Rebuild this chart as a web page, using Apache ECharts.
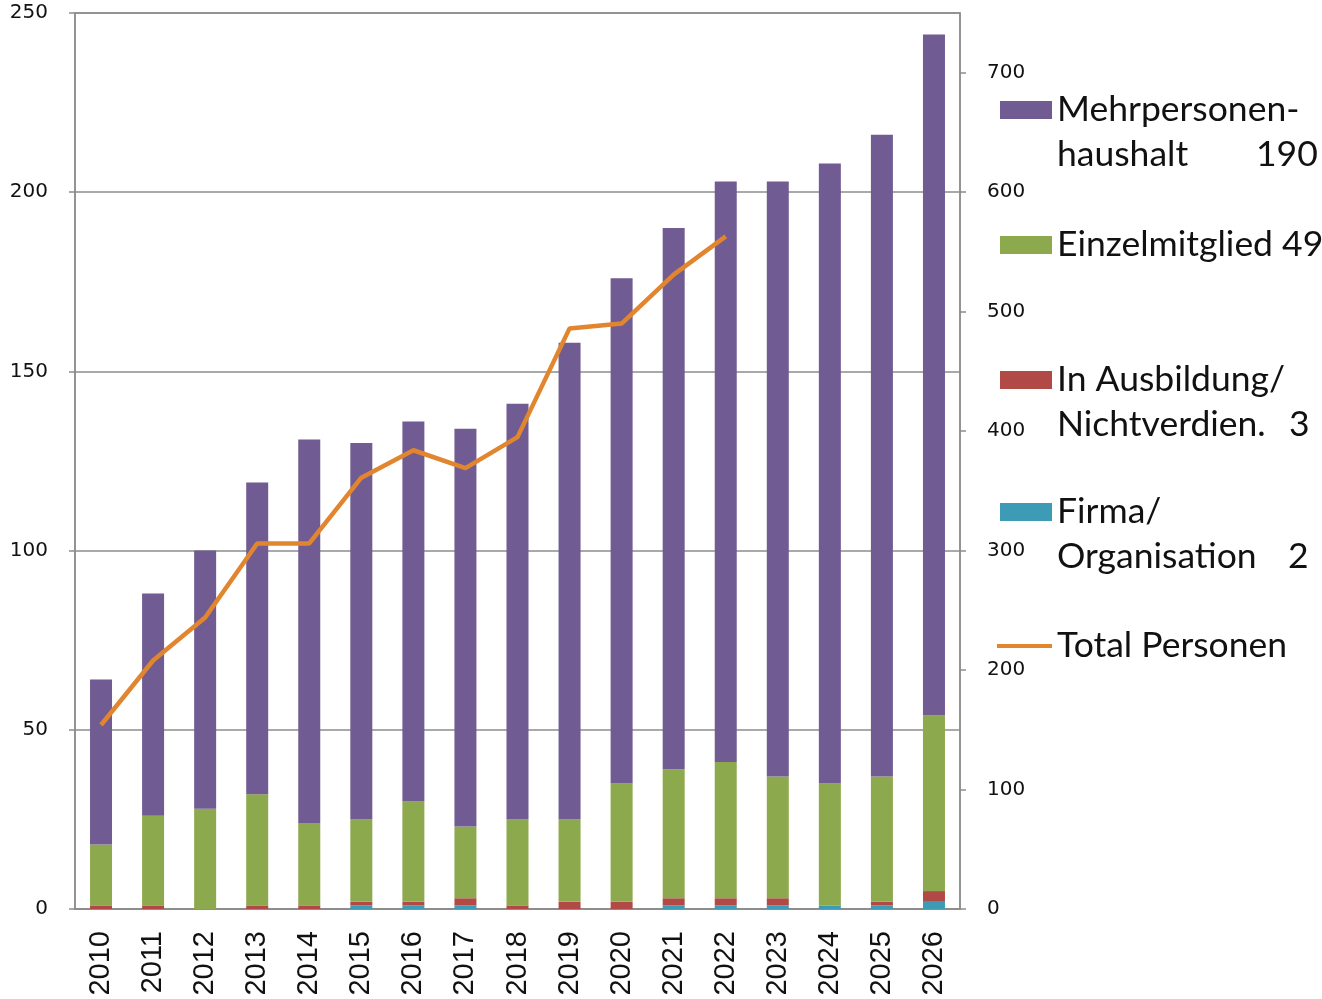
<!DOCTYPE html>
<html>
<head>
<meta charset="utf-8">
<script src="https://cdn.jsdelivr.net/npm/echarts@6/dist/echarts.min.js"></script>
<style>
  html, body { margin: 0; padding: 0; background: #ffffff; }
  #chart { width: 1322px; height: 999px; }
</style>
</head>
<body>
<div id="chart"></div>
<script>
// ---- Data ----
const years = ['2010','2011','2012','2013','2014','2015','2016','2017','2018','2019','2020','2021','2022','2023','2024','2025','2026'];
const firma        = [0, 0, 0, 0, 0, 1, 1, 1, 0, 0, 0, 1, 1, 1, 1, 1, 2];
const ausbildung   = [1, 1, 0, 1, 1, 1, 1, 2, 1, 2, 2, 2, 2, 2, 0, 1, 3];
const einzel       = [17, 25, 28, 31, 23, 23, 28, 20, 24, 23, 33, 36, 38, 34, 34, 35, 49];
const mehr         = [46, 62, 72, 87, 107, 105, 106, 111, 116, 133, 141, 151, 162, 166, 173, 179, 190];
const totalPersonen = [154, 208, 244, 306, 306, 361, 384, 369, 395, 486, 490, 531, 563, null, null, null, null];

const leftAxisRange  = [0, 250];
const leftAxisStep   = 50;
const rightAxisRange = [0, 750];
const rightAxisStep  = 100;

// legend texts: [series name, first line, second-line label, second-line value]
const legendMehr   = ['Mehrpersonenhaushalt', 'Mehrpersonen-', 'haushalt', '190'];
const legendEinzel = ['Einzelmitglied', 'Einzelmitglied 49'];
const legendAusb   = ['In Ausbildung/Nichtverdien.', 'In Ausbildung/', 'Nichtverdien.', '3'];
const legendFirma  = ['Firma/Organisation', 'Firma/', 'Organisation', '2'];
const legendTotal  = ['Total Personen', 'Total Personen'];

// ---- Styles ----
const C_PURPLE = '#705B92';
const C_GREEN  = '#8DA94E';
const C_RED    = '#B14A47';
const C_TEAL   = '#3E9BB5';
const C_ORANGE = '#E2852F';
const C_AXIS   = '#8c8c8c';

const chart = echarts.init(document.getElementById('chart'), null, { renderer: 'canvas' });

const LH = 45;
const FS = 35.5;
const legendFont = { fontFamily: 'Lato', fontSize: FS, color: '#111', lineHeight: LH };

function twoLineLegend(item, top, nameWidth) {
  return {
    orient: 'vertical', left: 1000, top: top, padding: 0,
    itemWidth: 52, itemHeight: 18, icon: 'rect',
    data: [item[0]],
    formatter: function () {
      return '{b| }\n{a|' + item[1] + '}\n{n|' + item[2] + '}{v|' + item[3] + '}';
    },
    textStyle: Object.assign({}, legendFont, {
      rich: {
        b: { fontFamily: 'Lato', fontSize: FS, lineHeight: LH },
        a: { fontFamily: 'Lato', fontSize: FS, lineHeight: LH, color: '#111' },
        n: { fontFamily: 'Lato', fontSize: FS, lineHeight: LH, color: '#111', width: nameWidth },
        v: { fontFamily: 'Lato', fontSize: FS, lineHeight: LH, color: '#111' }
      }
    })
  };
}

function oneLineLegend(item, top, left, itemWidth, itemHeight) {
  return {
    orient: 'vertical', left: left, top: top, padding: 0,
    itemWidth: itemWidth, itemHeight: itemHeight, icon: 'rect',
    data: [item[0]],
    formatter: function () { return item[1]; },
    textStyle: legendFont
  };
}

const option = {
  backgroundColor: '#ffffff',
  animation: false,
  grid: {
    left: 75, right: 362, top: 13, bottom: 90,
    show: true, borderColor: C_AXIS, borderWidth: 1.5, backgroundColor: 'transparent'
  },
  legend: [
    twoLineLegend(legendMehr, 110 - 1.5 * LH, 199),
    oneLineLegend(legendEinzel, 245 - LH / 2, 1000, 52, 18),
    twoLineLegend(legendAusb, 380 - 1.5 * LH, 232),
    twoLineLegend(legendFirma, 512 - 1.5 * LH, 231),
    oneLineLegend(legendTotal, 646 - LH / 2, 997, 55, 4)
  ],
  xAxis: {
    type: 'category',
    data: years,
    axisLine: { show: true, lineStyle: { color: C_AXIS, width: 1.5 } },
    axisTick: { show: false },
    axisLabel: {
      rotate: 90, margin: 22, interval: 0,
      fontFamily: 'Liberation Sans', fontSize: 29, color: '#111'
    }
  },
  yAxis: [
    {
      type: 'value', position: 'left',
      min: leftAxisRange[0], max: leftAxisRange[1], interval: leftAxisStep,
      axisLine: { show: true, lineStyle: { color: C_AXIS, width: 1.5 } },
      axisTick: { show: true, length: 6, lineStyle: { color: C_AXIS, width: 1.5 } },
      splitLine: { show: true, lineStyle: { color: C_AXIS, width: 1.5 } },
      axisLabel: { margin: 27, fontFamily: 'DejaVu Sans', fontSize: 20, color: '#111' }
    },
    {
      type: 'value', position: 'right',
      min: rightAxisRange[0], max: rightAxisRange[1], interval: rightAxisStep,
      axisLine: { show: true, lineStyle: { color: C_AXIS, width: 1.5 } },
      axisTick: { show: true, length: 6, lineStyle: { color: C_AXIS, width: 1.5 } },
      splitLine: { show: false },
      axisLabel: { margin: 27, showMaxLabel: false, fontFamily: 'DejaVu Sans', fontSize: 20, color: '#111' }
    }
  ],
  series: [
    { name: legendFirma[0], type: 'bar', stack: 'm', barWidth: 22, data: firma, itemStyle: { color: C_TEAL } },
    { name: legendAusb[0], type: 'bar', stack: 'm', barWidth: 22, data: ausbildung, itemStyle: { color: C_RED } },
    { name: legendEinzel[0], type: 'bar', stack: 'm', barWidth: 22, data: einzel, itemStyle: { color: C_GREEN } },
    { name: legendMehr[0], type: 'bar', stack: 'm', barWidth: 22, data: mehr, itemStyle: { color: C_PURPLE } },
    {
      name: legendTotal[0], type: 'line', yAxisIndex: 1, data: totalPersonen,
      symbol: 'none', connectNulls: false,
      lineStyle: { color: C_ORANGE, width: 4.5 }, itemStyle: { color: C_ORANGE }
    }
  ]
};

chart.setOption(option);
</script>
</body>
</html>
